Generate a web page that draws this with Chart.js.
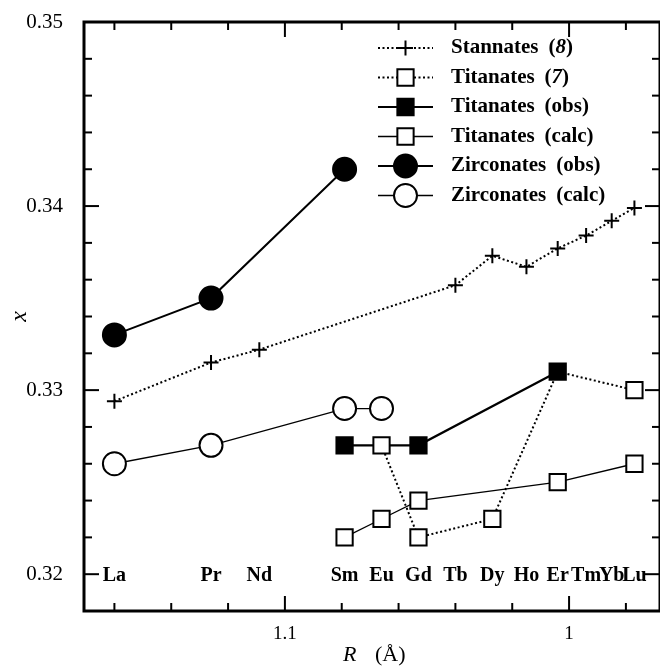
<!DOCTYPE html>
<html>
<head>
<meta charset="utf-8">
<script src="https://cdn.jsdelivr.net/npm/chart.js@4.4.0/dist/chart.umd.min.js"></script>
<style>
body { margin: 0; background: #fff; }
</style>
</head>
<body>
<canvas id="xChart" width="660" height="667"></canvas>
<script>
// lanthanide ionic radii (A), used as x positions
const elements = ['La','Pr','Nd','Sm','Eu','Gd','Tb','Dy','Ho','Er','Tm','Yb','Lu'];
const radii = [1.160,1.126,1.109,1.079,1.066,1.053,1.040,1.027,1.015,1.004,0.994,0.985,0.977];

const stannEl = ['La','Pr','Nd','Tb','Dy','Ho','Er','Tm','Yb','Lu'];
const stannX = [0.3294,0.3315,0.3322,0.3357,0.3373,0.3367,0.3377,0.3384,0.3392,0.3399];

const tit7El = ['Eu','Gd','Dy','Er','Lu'];
const tit7X = [0.327,0.322,0.323,0.331,0.330];

const titObsEl = ['Sm','Gd','Er'];
const titObsX = [0.327,0.327,0.331];

const titCalcEl = ['Sm','Eu','Gd','Er','Lu'];
const titCalcX = [0.322,0.323,0.324,0.325,0.326];

const zrObsEl = ['La','Pr','Sm'];
const zrObsX = [0.333,0.335,0.342];

const zrCalcEl = ['La','Pr','Sm','Eu'];
const zrCalcX = [0.326,0.327,0.329,0.329];

const yLabelVals = [0.32,0.33,0.34,0.35];
const xLabelVals = [1.1,1.0];

function pts(els, vals) {
    return els.map((e, i) => ({x: radii[elements.indexOf(e)], y: vals[i]}));
}

const SERIF = '"Liberation Serif", "Times New Roman", serif';
const MARK = 11.5;

// hide the open (7) square where the filled obs square sits on it
function hiddenUnderObs(ctx) {
    const p = ctx.raw;
    if (!p) return MARK;
    const hit = titObsEl.some((e, i) => radii[elements.indexOf(e)] === p.x && titObsX[i] === p.y);
    return hit ? 0 : MARK;
}

function drawMarker(ctx, style, r, x, y) {
    ctx.beginPath();
    if (style === 'cross') {
        ctx.moveTo(x - r, y); ctx.lineTo(x + r, y);
        ctx.moveTo(x, y - r); ctx.lineTo(x, y + r);
        ctx.stroke();
        return;
    }
    if (style === 'rect') {
        const s = r * Math.SQRT1_2;
        ctx.rect(x - s, y - s, 2 * s, 2 * s);
    } else {
        ctx.arc(x, y, r, 0, Math.PI * 2);
    }
    ctx.fill();
    ctx.stroke();
}

const frame = {
    id: 'frame',
    afterDatasetsDraw(chart) {
        const {ctx, chartArea: a, scales: {x, y}} = chart;
        ctx.save();
        ctx.strokeStyle = '#000';
        ctx.lineWidth = 2;
        const seg = (x0, y0, x1, y1) => { ctx.beginPath(); ctx.moveTo(x0, y0); ctx.lineTo(x1, y1); ctx.stroke(); };
        for (let i = Math.ceil(x.min / 0.02 - 1e-6); i * 0.02 <= x.max + 1e-9; i++) {
            const px = x.getPixelForValue(i * 0.02);
            const len = i % 5 === 0 ? 15 : 8;
            seg(px, a.bottom, px, a.bottom - len);
            seg(px, a.top, px, a.top + len);
        }
        for (let i = Math.ceil(y.min / 0.002 - 1e-6); i * 0.002 <= y.max + 1e-9; i++) {
            const py = y.getPixelForValue(i * 0.002);
            const len = i % 5 === 0 ? 15 : 8;
            seg(a.left, py, a.left + len, py);
            seg(a.right, py, a.right - len, py);
        }
        ctx.lineWidth = 3;
        ctx.strokeRect(a.left, a.top, a.right - a.left, a.bottom - a.top);

        // element names along the bottom
        ctx.fillStyle = '#000';
        ctx.font = 'bold 20px ' + SERIF;
        ctx.textAlign = 'center';
        ctx.textBaseline = 'middle';
        const ey = y.getPixelForValue(0.32) + 2;
        elements.forEach((e, i) => ctx.fillText(e, x.getPixelForValue(radii[i]), ey));

        // x axis title: R (Å)
        const cx = (a.left + a.right) / 2;
        ctx.textAlign = 'left';
        ctx.font = 'italic 22px ' + SERIF;
        ctx.fillText('R', cx - 29, 655);
        ctx.font = '22px ' + SERIF;
        ctx.fillText('(Å)', cx + 3, 655);
        ctx.restore();
    }
};

const legendBox = {
    id: 'legendBox',
    afterDatasetsDraw(chart) {
        const {ctx, chartArea: a} = chart;
        ctx.save();
        chart.data.datasets.forEach((ds, i) => {
            const yy = a.top + 26 + i * 29.5;
            const x0 = a.right - 282, x1 = a.right - 227, xm = (x0 + x1) / 2;
            ctx.strokeStyle = '#000';
            ctx.lineWidth = ds.borderWidth;
            ctx.setLineDash(ds.borderDash || []);
            ctx.beginPath(); ctx.moveTo(x0, yy); ctx.lineTo(x1, yy); ctx.stroke();
            ctx.setLineDash([]);
            ctx.fillStyle = ds.pointBackgroundColor;
            ctx.lineWidth = ds.pointBorderWidth;
            drawMarker(ctx, ds.pointStyle, ds.legendRadius, xm, yy);

            ctx.fillStyle = '#000';
            ctx.textBaseline = 'middle';
            ctx.textAlign = 'left';
            const [name, tag] = ds.label.split(' ');
            let tx = a.right - 209;
            ctx.font = 'bold 21px ' + SERIF;
            ctx.fillText(name, tx, yy);
            tx += ctx.measureText(name).width + 10;
            const num = tag.match(/^\((\d+)\)$/);
            if (num) {
                ctx.fillText('(', tx, yy); tx += ctx.measureText('(').width;
                ctx.font = 'italic bold 21px ' + SERIF;
                ctx.fillText(num[1], tx, yy); tx += ctx.measureText(num[1]).width;
                ctx.font = 'bold 21px ' + SERIF;
                ctx.fillText(')', tx, yy);
            } else {
                ctx.fillText(tag, tx, yy);
            }
        });
        ctx.restore();
    }
};

function series(label, data, opts) {
    return Object.assign({
        label: label,
        data: data,
        borderColor: '#000',
        pointBorderColor: '#000',
        pointBackgroundColor: '#fff',
        pointBorderWidth: 2,
        pointRadius: MARK,
        legendRadius: MARK,
        borderWidth: 1.4,
        tension: 0,
        fill: false,
        clip: false
    }, opts);
}

// first dataset is drawn on top
const datasets = [
    series('Stannates (8)', pts(stannEl, stannX), {pointStyle: 'cross', pointRadius: 7.5, legendRadius: 7.5, borderWidth: 2, borderDash: [2, 2.5]}),
    series('Titanates (7)', pts(tit7El, tit7X), {pointStyle: 'rect', pointRadius: hiddenUnderObs, borderWidth: 2, borderDash: [2, 2.5]}),
    series('Titanates (obs)', pts(titObsEl, titObsX), {pointStyle: 'rect', pointBackgroundColor: '#000', borderWidth: 2.2}),
    series('Titanates (calc)', pts(titCalcEl, titCalcX), {pointStyle: 'rect', borderWidth: 1.3}),
    series('Zirconates (obs)', pts(zrObsEl, zrObsX), {pointStyle: 'circle', pointBackgroundColor: '#000', borderWidth: 2}),
    series('Zirconates (calc)', pts(zrCalcEl, zrCalcX), {pointStyle: 'circle', borderWidth: 1.3})
];

function noPad(s) {
    s.paddingLeft = 0; s.paddingRight = 0; s.paddingTop = 0; s.paddingBottom = 0;
}

new Chart(document.getElementById('xChart'), {
    type: 'line',
    data: {datasets: datasets},
    options: {
        responsive: false,
        animation: false,
        devicePixelRatio: 1,
        events: [],
        layout: {autoPadding: false, padding: {top: 22, right: 0, left: 0, bottom: 0}},
        plugins: {legend: {display: false}, tooltip: {enabled: false}},
        scales: {
            x: {
                type: 'linear',
                reverse: true,
                min: 0.968,
                max: 1.1707,
                grid: {display: false},
                border: {display: false},
                afterBuildTicks: s => { s.ticks = xLabelVals.map(v => ({value: v})); },
                afterFit: s => { s.height = 56; noPad(s); },
                ticks: {
                    autoSkip: false,
                    maxRotation: 0,
                    padding: 4,
                    color: '#000',
                    font: {family: SERIF, size: 19},
                    callback: v => String(+v.toFixed(2))
                }
            },
            y: {
                type: 'linear',
                min: 0.318,
                max: 0.35,
                grid: {display: false},
                border: {display: false},
                afterBuildTicks: s => { s.ticks = yLabelVals.map(v => ({value: v})); },
                afterFit: s => { s.width = 84; noPad(s); },
                title: {
                    display: true,
                    text: 'x',
                    color: '#000',
                    padding: {top: 5, bottom: 0},
                    font: {family: SERIF, size: 24, style: 'italic'}
                },
                ticks: {
                    padding: 13,
                    color: '#000',
                    font: {family: SERIF, size: 21},
                    callback: v => v.toFixed(2)
                }
            }
        }
    },
    plugins: [frame, legendBox]
});
</script>
</body>
</html>
